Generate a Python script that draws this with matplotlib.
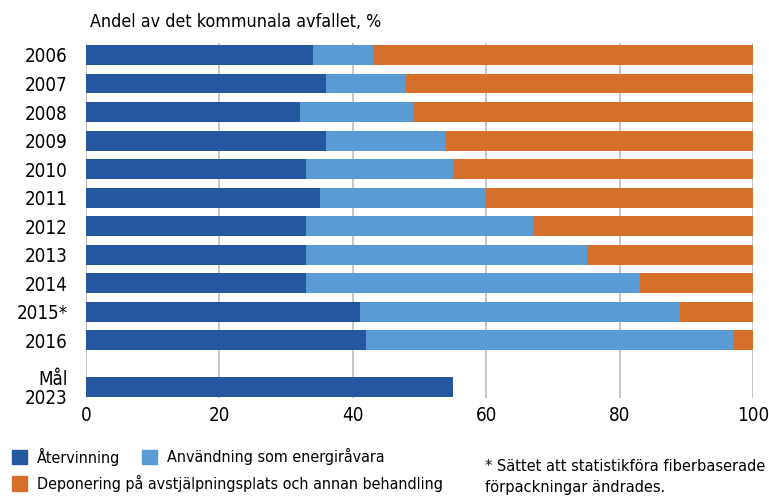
import matplotlib
matplotlib.use("Agg")
import matplotlib.pyplot as plt
from matplotlib import font_manager
from matplotlib.patches import Rectangle

# pick a narrow font if one is there, the original uses a condensed face
names = {f.name for f in font_manager.fontManager.ttflist}
cond = [f for f in font_manager.fontManager.ttflist
        if f.name == 'DejaVu Sans' and 'condensed' in str(f.stretch)]
if 'Liberation Sans Narrow' in names:
    plt.rcParams['font.family'] = ['Liberation Sans Narrow', 'DejaVu Sans']
elif cond:
    plt.rcParams['font.family'] = ['DejaVu Sans']
    plt.rcParams['font.stretch'] = 'condensed'
else:
    plt.rcParams['font.family'] = ['DejaVu Sans']

years = ['2006', '2007', '2008', '2009', '2010', '2011', '2012', '2013',
         '2014', '2015*', '2016', 'Mål\n2023']
atervinning = [34, 36, 32, 36, 33, 35, 33, 33, 33, 41, 42, 55]
energi = [9, 12, 17, 18, 22, 25, 34, 42, 50, 48, 55, 0]
deponering = [57, 52, 51, 46, 45, 40, 33, 25, 17, 11, 3, 0]

c_dark = '#2557a0'
c_light = '#5a9bd6'
c_orange = '#d4702a'

# the goal row sits a bit further down
pos = list(range(11)) + [11.64]

fig = plt.figure(figsize=(7.69, 4.97), dpi=100)
ax = fig.add_axes([0.1118, 0.199, 0.868, 0.7145])

h = 0.70
left3 = [a + e for a, e in zip(atervinning, energi)]
ax.barh(pos, atervinning, height=h, color=c_dark, zorder=3)
ax.barh(pos, energi, left=atervinning, height=h, color=c_light, zorder=3)
ax.barh(pos, deponering, left=left3, height=h, color=c_orange, zorder=3)

ax.set_xlim(0, 100)
ax.set_ylim(12.03, -0.42)
ax.set_xticks([0, 20, 40, 60, 80, 100])
ax.set_yticks(pos)
ax.set_yticklabels(years, linespacing=1.0)
ax.tick_params(axis='y', length=0, pad=13, labelsize=13.5)
ax.tick_params(axis='x', length=0, pad=6, labelsize=13.5)
ax.grid(axis='x', color='#c3c3c3', lw=1.3, zorder=0)
ax.set_axisbelow(True)
for s in ax.spines.values():
    s.set_visible(False)

renderer = fig.canvas.get_renderer()


def fit(t, width_px, max_size):
    # shrink a text so it takes about the same width as in the original
    w = t.get_window_extent(renderer).width
    t.set_fontsize(min(max_size, t.get_fontsize() * width_px / w))
    return t.get_fontsize()


title = fig.text(0.117, 0.955, 'Andel av det kommunala avfallet, %', fontsize=14,
                 va='center', ha='left')
fit(title, 291, 14)

# legend, drawn by hand; one font size for all three labels
leg_labels = ['Återvinning', 'Användning som energiråvara',
              'Deponering på avstjälpningsplats och annan behandling']
leg_colors = [c_dark, c_light, c_orange]
leg_xy = [(0.0156, 0.0805), (0.1846, 0.0805), (0.0156, 0.028)]

texts = []
for (x, y), col, lab in zip(leg_xy, leg_colors, leg_labels):
    fig.patches.append(Rectangle((x, y - 0.015), 0.0195, 0.030, color=col,
                                 transform=fig.transFigure, figure=fig))
    texts.append(fig.text(x + 0.032, y, lab, fontsize=15, va='center', ha='left'))
size = fit(texts[2], 411, 15)
for t in texts:
    t.set_fontsize(size)

note = fig.text(0.631, 0.040, '* Sättet att statistikföra fiberbaserade\nförpackningar ändrades.',
                fontsize=15, va='center', ha='left', linespacing=1.55)
fit(note, 280, 15)

fig.savefig('out.png', dpi=100)
